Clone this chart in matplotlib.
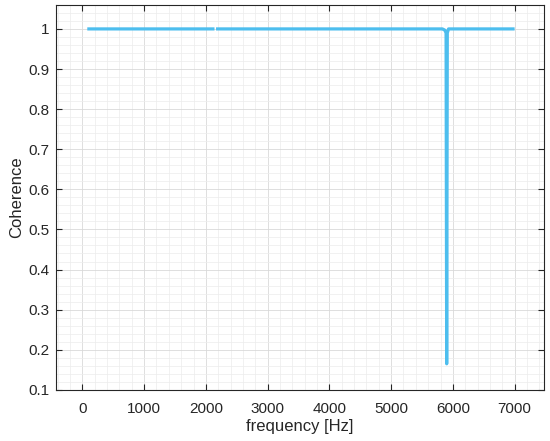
import numpy as np
import matplotlib
matplotlib.use("Agg")
import matplotlib.pyplot as plt
from matplotlib.ticker import MultipleLocator

plt.rcParams['font.family'] = ['Liberation Sans', 'DejaVu Sans']

# coherence curve (nan = small gap in the trace)
freq = [80, 2140, 2150, 2165, 5830, 5870, 5890, 5900, 5910, 5930, 7000]
coherence = [1.0, 1.0, np.nan, 1.0, 1.0, 0.997, 0.99, 0.165, 0.99, 1.0, 1.0]

xticks = [0, 1000, 2000, 3000, 4000, 5000, 6000, 7000]
yticks = [0.1, 0.2, 0.3, 0.4, 0.5, 0.6, 0.7, 0.8, 0.9, 1]

fig = plt.figure(figsize=(5.5, 4.41), dpi=100)
ax = fig.add_axes([0.102, 0.116, 0.887, 0.873])

ax.plot(freq, coherence, color='#4DBEEE', linewidth=2.3, solid_capstyle='butt')

ax.set_xlim(-425, 7475)
ax.set_ylim(0.1, 1.06)
ax.set_xticks(xticks)
ax.set_yticks(yticks)
ax.set_yticklabels(['0.1', '0.2', '0.3', '0.4', '0.5', '0.6', '0.7', '0.8', '0.9', '1'])
ax.xaxis.set_minor_locator(MultipleLocator(200))
ax.yaxis.set_minor_locator(MultipleLocator(0.02))

ax.grid(which='major', color='#d9d9d9', linewidth=0.6)
ax.grid(which='minor', color='#ececec', linewidth=0.5)
ax.set_axisbelow(True)

ax.tick_params(which='both', direction='in', top=True, right=True,
               colors='#262626', labelsize=11)
ax.tick_params(which='minor', length=0)
ax.tick_params(which='major', length=4)
ax.tick_params(axis='x', pad=9)
ax.tick_params(axis='y', pad=5)
for s in ax.spines.values():
    s.set_color('#262626')
    s.set_linewidth(0.8)

ax.set_xlabel('frequency [Hz]', fontsize=12, color='#262626', labelpad=2)
ax.set_ylabel('Coherence', fontsize=12, color='#262626', labelpad=3)

fig.savefig('out.png', dpi=100)
